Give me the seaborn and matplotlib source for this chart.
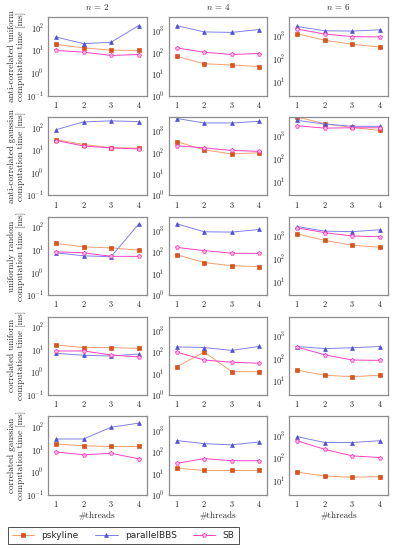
import numpy as np
import pandas as pd
import seaborn as sns
import matplotlib.pyplot as plt
from matplotlib.lines import Line2D

threads = [1, 2, 3, 4]
n_values = [2, 4, 6]
datasets = ['anti-correlated uniform', 'anti-correlated gaussian', 'uniformly random',
            'correlated uniform', 'correlated gaussian']
algorithms = ['pskyline', 'parallelBBS', 'SB']

# computation time [ms]; one row per dataset, one list per n (2, 4, 6)
pskyline = [
    [[18.5, 13, 10.3, 10], [69, 31, 27, 23], [1300, 670, 450, 340]],
    [[29.5, 18, 13, 12.5], [330, 136, 87, 100], [6900, 3500, 2400, 1780]],
    [[19.7, 14, 12.5, 10], [79, 34, 24, 22], [1230, 640, 395, 320]],
    [[16.6, 12.7, 12.7, 11.8], [21, 103, 12.7, 12.3], [31, 18.7, 16.2, 18.7]],
    [[18, 15, 14, 14], [18, 14, 14, 14], [25, 17, 15, 16]],
]
parallelbbs = [
    [[39, 20, 23, 125], [1850, 950, 900, 1230], [2700, 1750, 1700, 1930]],
    [[82, 180, 200, 185], [3950, 2450, 2450, 2900], [4900, 3400, 2700, 2700]],
    [[7.6, 5.6, 5.1, 140], [2200, 930, 900, 1190], [2600, 1620, 1560, 1860]],
    [[7.1, 5.8, 5.4, 6.6], [180, 168, 123, 190], [340, 275, 300, 340]],
    [[30, 30, 100, 150], [350, 250, 220, 300], [900, 500, 500, 600]],
]
sb = [
    [[10, 8.4, 6, 6.6], [170, 107, 84, 93], [2060, 1260, 970, 940]],
    [[27, 15.5, 12.7, 11.5], [213, 167, 127, 115], [2850, 2250, 2330, 2330]],
    [[8.4, 7.6, 5.3, 5.3], [173, 123, 93, 90], [2280, 1400, 1000, 930]],
    [[9, 9, 6, 4.9], [103, 44, 34.5, 31], [320, 147, 87, 84]],
    [[8, 6, 7, 4], [30, 50, 40, 40], [600, 250, 130, 110]],
]

rows = []
for algo, values in zip(algorithms, [pskyline, parallelbbs, sb]):
    for i, ds in enumerate(datasets):
        for j, n in enumerate(n_values):
            for t, v in zip(threads, values[i][j]):
                rows.append({'algorithm': algo, 'dataset': ds, 'n': n, 'threads': t, 'time': v})
df = pd.DataFrame(rows)

sns.set_theme(style='white')
plt.rcParams['font.family'] = ['cmr10', 'DejaVu Serif']
plt.rcParams['mathtext.fontset'] = 'cm'
plt.rcParams['axes.formatter.use_mathtext'] = True

styles = {
    'pskyline': dict(color='#f0a070', marker='s', markerfacecolor='#d9531e', markeredgecolor='#d9531e', markersize=3.0),
    'parallelBBS': dict(color='#8080e8', marker='^', markerfacecolor='#5050d0', markeredgecolor='#5050d0', markersize=2.8),
    'SB': dict(color='#ff40c0', marker='p', markerfacecolor='#ffc0e8', markeredgecolor='#ff20b0', markersize=3.0),
}
ylims = [(0.1, 300), (1, 4700), (2.5, 7000)]

fig, axes = plt.subplots(5, 3, figsize=(3.93, 5.5), dpi=100)
fig.subplots_adjust(left=0.122, right=0.987, top=0.969, bottom=0.1, wspace=0.22, hspace=0.27)

for i, ds in enumerate(datasets):
    for j, n in enumerate(n_values):
        ax = axes[i, j]
        for algo in algorithms:
            sub = df[(df.dataset == ds) & (df.n == n) & (df.algorithm == algo)]
            sns.lineplot(data=sub, x='threads', y='time', ax=ax, linewidth=0.7,
                         markeredgewidth=0.5, legend=False, **styles[algo])
        ax.set_yscale('log')
        ax.set_ylim(*ylims[j])
        ax.set_xlim(0.7, 4.3)
        ax.set_xticks(threads)
        ax.minorticks_off()
        if j == 0:
            ax.set_yticks([0.1, 1, 10, 100])
        elif j == 1:
            ax.set_yticks([1, 10, 100, 1000])
        else:
            ax.set_yticks([10, 100, 1000])
        ax.tick_params(labelsize=6, length=0, pad=3)
        for s in ax.spines.values():
            s.set_color('#8c8c8c')
            s.set_linewidth(0.9)
        ax.set_xlabel('#threads' if i == 4 else '', fontsize=6.5, labelpad=2)
        if j == 0:
            ax.set_ylabel(ds + '\ncomputation time [ms]', fontsize=6.5, labelpad=0, linespacing=1.1)
        else:
            ax.set_ylabel('')
        if i == 0:
            ax.set_title(f'$n$ = {n}', fontsize=6.5, pad=5)

handles = [Line2D([], [], linewidth=0.7, markeredgewidth=0.5, **styles[a]) for a in algorithms]
leg = fig.legend(handles, algorithms, loc='lower left', bbox_to_anchor=(0.008, 0.002), ncol=3,
                 frameon=True, fancybox=False, edgecolor='black', fontsize=6.5,
                 prop={'family': 'DejaVu Sans', 'size': 6.5}, handlelength=2.5, columnspacing=1.8,
                 borderpad=0.45)
leg.get_frame().set_linewidth(0.6)

fig.savefig('out.png', dpi=100)
